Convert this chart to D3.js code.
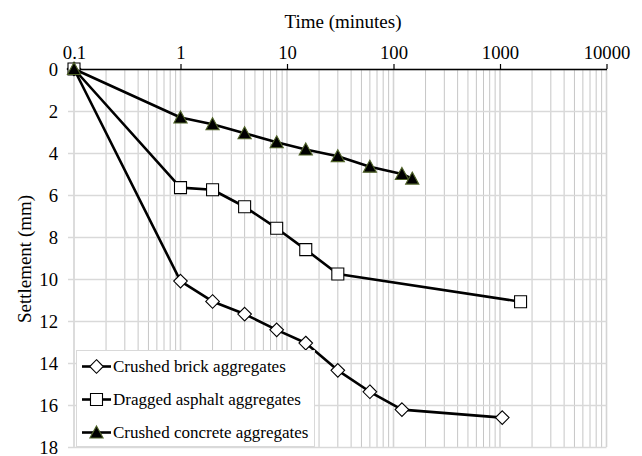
<!DOCTYPE html>
<html>
<head>
<meta charset="utf-8">
<script src="https://cdn.jsdelivr.net/npm/d3@7"></script>
<style>
  html, body { margin: 0; padding: 0; background: #fff; }
</style>
</head>
<body>
<svg id="chart" width="642" height="456"></svg>
<script>
// Settlement over time for three aggregate types (log time axis)
const seriesNames = ["Crushed brick aggregates", "Dragged asphalt aggregates", "Crushed concrete aggregates"];
const brickTime = [0.1, 1, 2, 4, 8, 15, 30, 60, 120, 1050];
const brickSettle = [0, 10.1, 11.07, 11.67, 12.42, 13.05, 14.35, 15.37, 16.22, 16.6];
const asphaltTime = [0.1, 1, 2, 4, 8, 15, 30, 1560];
const asphaltSettle = [0, 5.65, 5.75, 6.56, 7.58, 8.6, 9.76, 11.08];
const concreteTime = [0.1, 1, 2, 4, 8, 15, 30, 60, 120, 150];
const concreteSettle = [0, 2.31, 2.63, 3.06, 3.49, 3.83, 4.15, 4.65, 5.0, 5.22];
const xTickValues = [0.1, 1, 10, 100, 1000, 10000];
const xTickLabels = ["0.1", "1", "10", "100", "1000", "10000"];
const yTickValues = [0, 2, 4, 6, 8, 10, 12, 14, 16, 18];

const FONT = "'Liberation Serif', 'Times New Roman', serif";

const svg = d3.select("#chart");
const plotLeft = 74, plotRight = 606.5, plotTop = 69, plotBottom = 447;

const x = d3.scaleLog().domain([0.1, 10000]).range([plotLeft, plotRight]);
const y = d3.scaleLinear().domain([0, 18]).range([plotTop, plotBottom]);

// minor log positions 2..9 within each decade
const minorTicks = [];
xTickValues.slice(0, -1).forEach(d => { for (let k = 2; k <= 9; k++) minorTicks.push(d * k); });

const grid = svg.append("g");
// vertical gridlines
grid.selectAll("line.vmin").data(minorTicks).enter().append("line")
  .attr("x1", d => x(d)).attr("x2", d => x(d))
  .attr("y1", plotTop).attr("y2", plotBottom)
  .attr("stroke", "#c6c6c6").attr("stroke-width", 1);
grid.selectAll("line.vmaj").data(xTickValues).enter().append("line")
  .attr("x1", d => x(d)).attr("x2", d => x(d))
  .attr("y1", plotTop).attr("y2", plotBottom)
  .attr("stroke", "#d4d4d4").attr("stroke-width", 1.6);

// y axis with gridlines extending across the plot
const plotW = plotRight - plotLeft;
const yAxis = d3.axisLeft(y).tickValues(yTickValues).tickSize(0).tickFormat(d3.format("d"));
const yg = svg.append("g").attr("transform", `translate(${plotRight},0)`).call(yAxis);
yg.select(".domain").remove();
yg.selectAll(".tick line").attr("stroke", "#d9d9d9").attr("stroke-width", 1.3)
  .attr("x1", 0).attr("x2", -plotW - 6);
yg.selectAll(".tick text").attr("x", -plotW - 16)
  .style("font-size", "18.7px").attr("dy", "0.34em");

// top x axis
const xAxis = d3.axisTop(x).tickValues(xTickValues)
  .tickFormat((d, i) => xTickLabels[i]).tickSize(5).tickSizeOuter(0).tickPadding(5);
const xg = svg.append("g").attr("transform", `translate(0,${plotTop})`).call(xAxis);
xg.select(".domain").attr("stroke", "#000").attr("stroke-width", 1.5);
xg.selectAll(".tick line").attr("stroke", "#000").attr("stroke-width", 1.2);
xg.selectAll(".tick text").style("font-size", "18.7px");

// axis titles
svg.append("text").attr("x", 343).attr("y", 28).attr("text-anchor", "middle")
  .style("font-size", "19px").text("Time (minutes)");
svg.append("text").attr("transform", "translate(30.5,259) rotate(-90)").attr("text-anchor", "middle")
  .style("font-size", "19px").text("Settlement (mm)");

// marker outlines, centred on the data point
const shapePath = {
  diamond: "M0,-6.8L6.8,0L0,6.8L-6.8,0Z",
  square: "M-6,-6H6V6H-6Z",
  triangle: "M0,-6.5L6.6,5.5L-6.6,5.5Z"
};
const styles = [
  { shape: "diamond", fill: "#fff", stroke: "#000" },
  { shape: "square", fill: "#fff", stroke: "#000" },
  { shape: "triangle", fill: "#000", stroke: "#4f6228" }
];
const series = [
  brickTime.map((t, i) => [t, brickSettle[i]]),
  asphaltTime.map((t, i) => [t, asphaltSettle[i]]),
  concreteTime.map((t, i) => [t, concreteSettle[i]])
];

const line = d3.line().x(d => x(d[0])).y(d => y(d[1]));
function drawMarker(g, st, cx, cy) {
  g.append("path").attr("d", shapePath[st.shape])
    .attr("fill", st.fill).attr("stroke", st.stroke).attr("stroke-width", 1.1)
    .attr("transform", `translate(${cx},${cy})`);
}

series.forEach((data, si) => {
  const g = svg.append("g");
  g.append("path").datum(data).attr("d", line)
    .attr("fill", "none").attr("stroke", "#000").attr("stroke-width", 2.6)
    .attr("stroke-linejoin", "round");
  data.forEach(d => drawMarker(g, styles[si], x(d[0]), y(d[1])));
});

// legend
const lg = svg.append("g");
lg.append("rect").attr("x", 76.5).attr("y", 350.5).attr("width", 238).attr("height", 96)
  .attr("fill", "#fff").attr("stroke", "#d9d9d9").attr("stroke-width", 1);
const rowY = [366.5, 399.5, 432.5];
seriesNames.forEach((name, i) => {
  lg.append("line").attr("x1", 82).attr("x2", 111).attr("y1", rowY[i]).attr("y2", rowY[i])
    .attr("stroke", "#000").attr("stroke-width", 2.6);
  drawMarker(lg, styles[i], 96.5, rowY[i]);
  lg.append("text").attr("x", 113).attr("y", rowY[i]).attr("dy", "0.33em")
    .style("font-size", "17px").text(name);
});

// serif face and black fill for every label
svg.selectAll("g").attr("font-family", null);
svg.selectAll("text").style("font-family", FONT).attr("fill", "#000");
</script>
</body>
</html>
